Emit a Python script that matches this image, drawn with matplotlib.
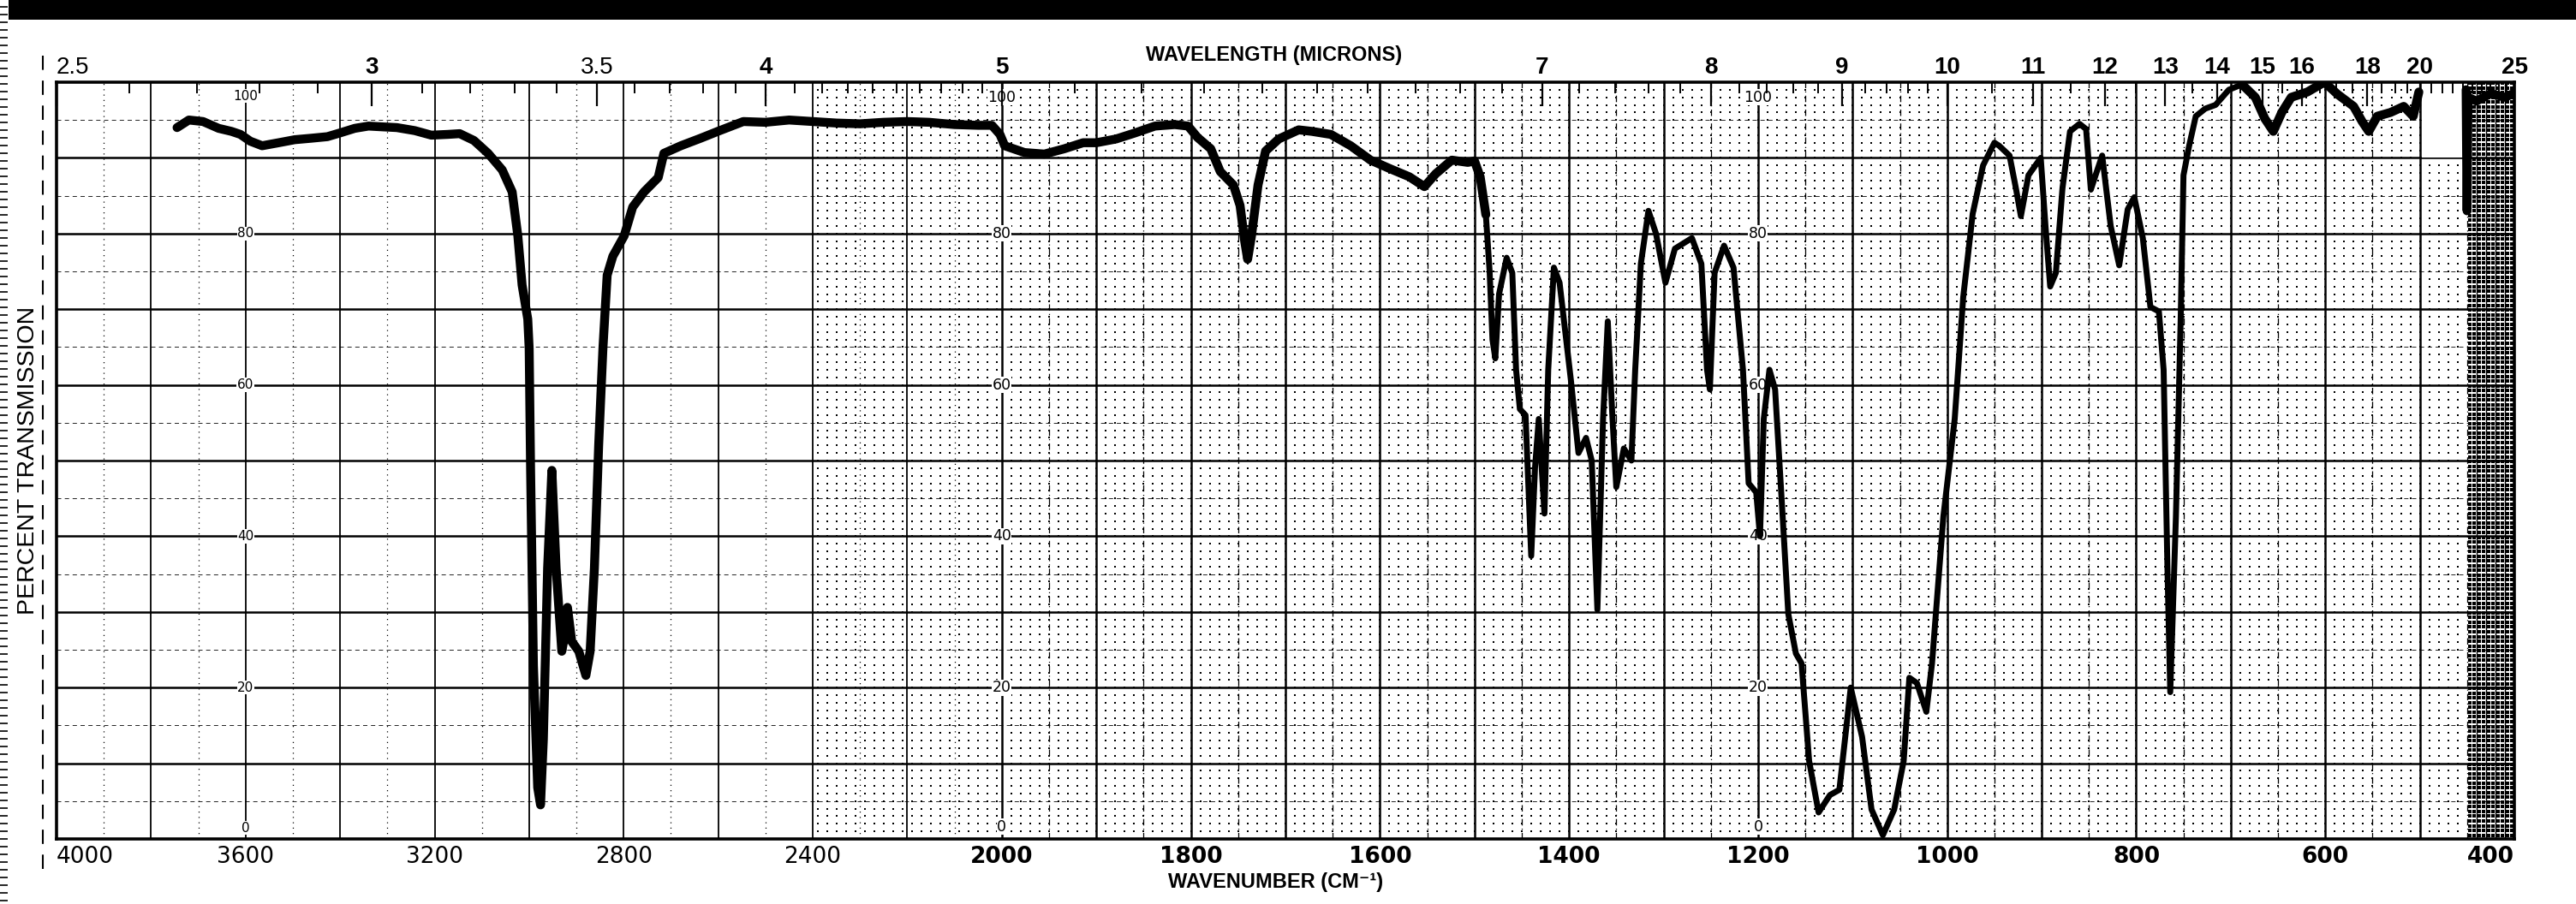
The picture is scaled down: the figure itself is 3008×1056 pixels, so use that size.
import numpy as np
import matplotlib
matplotlib.use('Agg')
import matplotlib.pyplot as plt
from matplotlib.patches import Rectangle
from matplotlib.lines import Line2D
from matplotlib.collections import LineCollection

# --- spectrum (cm-1, % transmission) ---
wavenumber = [
    3745, 3720, 3690, 3657, 3630, 3611, 3590, 3565, 3530, 3496, 3460, 3427, 3400,
    3369, 3340, 3311, 3280, 3242, 3207, 3172, 3147, 3117, 3087, 3057, 3036, 3024,
    3015, 3003, 3000, 2997, 2991, 2982, 2976, 2970, 2961, 2952, 2943, 2931, 2925,
    2919, 2910, 2895, 2880, 2871, 2862, 2853, 2844, 2835, 2823, 2799, 2781, 2757,
    2727, 2715, 2679, 2637, 2601, 2547, 2500, 2450, 2400, 2350, 2300, 2250, 2200,
    2154, 2100, 2050, 2021, 2004, 1997, 1976, 1955, 1934, 1914, 1900, 1879, 1859,
    1838, 1817, 1803, 1793, 1779, 1769, 1755, 1748, 1743, 1740, 1736, 1729, 1721,
    1707, 1686, 1672, 1652, 1631, 1610, 1590, 1569, 1553, 1541, 1524, 1507, 1500,
    1494, 1488, 1484, 1481, 1478, 1474, 1466, 1460, 1456, 1452, 1446, 1440, 1436,
    1432, 1426, 1422, 1416, 1410, 1398, 1390, 1382, 1376, 1370, 1364, 1359, 1354,
    1350, 1342, 1334, 1330, 1324, 1316, 1308, 1298, 1288, 1270, 1260, 1254, 1251,
    1246, 1236, 1226, 1216, 1210, 1202, 1198, 1194, 1188, 1182, 1174, 1168, 1160,
    1154, 1146, 1136, 1124, 1114, 1102, 1090, 1080, 1068, 1056, 1046, 1040, 1032,
    1022, 1016, 1004, 992, 983, 973, 962, 950, 945, 934, 927, 922, 914, 901, 896,
    891, 885, 878, 870, 860, 853, 848, 843, 836, 827, 818, 809, 802, 793, 785, 776,
    771, 767, 764, 758, 753, 750, 744, 737, 727, 716, 702, 688, 674, 664, 655, 646,
    636, 619, 601, 587, 570, 561, 554, 545, 531, 517, 507, 501, 498,
    451, 450, 449, 440, 425, 410, 401,
]
transmission = [
    94.0, 95.0, 94.8, 93.9, 93.5, 93.1, 92.2, 91.6, 92.0, 92.4, 92.6, 92.8, 93.3,
    93.9, 94.2, 94.1, 94.0, 93.6, 93.0, 93.1, 93.2, 92.3, 90.6, 88.4, 85.5, 79.7,
    73.2, 68.7, 64.8, 48.7, 22.9, 6.8, 4.5, 13.2, 35.8, 48.7, 35.8, 24.8, 26.8,
    30.6, 26.1, 24.8, 21.6, 24.8, 35.8, 52.0, 64.8, 74.5, 77.0, 79.7, 83.5, 85.5,
    87.4, 90.6, 91.6, 92.6, 93.5, 94.8, 94.7, 95.0, 94.8, 94.6, 94.5, 94.7, 94.8,
    94.7, 94.4, 94.3, 94.3, 93.1, 91.6, 90.7, 90.5, 91.2, 92.0, 92.0, 92.5, 93.3,
    94.2, 94.4, 94.2, 92.7, 91.2, 88.2, 86.4, 83.7, 78.9, 76.6, 79.6, 86.4, 90.9,
    92.5, 93.7, 93.5, 93.1, 91.6, 89.7, 88.6, 87.5, 86.2, 87.9, 89.7, 89.4, 89.6,
    87.5, 82.5, 75.0, 66.0, 63.5, 72.0, 76.8, 74.8, 62.0, 56.8, 56.0, 37.4, 49.0,
    55.5, 43.0, 62.0, 75.5, 73.5, 60.6, 51.0, 53.0, 50.0, 30.3, 55.5, 68.4, 55.5,
    46.5, 51.6, 50.0, 62.0, 76.0, 83.0, 80.0, 73.5, 78.0, 79.4, 76.0, 62.0, 59.4,
    74.8, 78.4, 75.5, 62.0, 47.0, 45.8, 40.0, 55.5, 62.0, 59.4, 42.6, 29.7, 24.5,
    23.2, 10.3, 3.5, 5.8, 6.5, 20.0, 13.5, 3.9, 0.5, 3.9, 10.3, 21.3, 20.6,
    16.8, 23.2, 42.6, 55.5, 71.6, 82.6, 89.0, 92.0, 91.6, 90.3, 85.8, 82.3, 87.7, 90.0, 81.0,
    73.0, 74.8, 86.0, 93.5, 94.5, 93.8, 85.8, 87.7, 90.3, 81.0, 75.8, 83.2, 84.8, 79.4, 70.3, 69.7,
    62.0, 36.0, 19.4, 42.6, 68.4, 87.7, 91.6, 95.5, 96.5, 97.0, 99.0, 99.7, 98.0, 95.2, 93.5, 96.0,
    98.0, 98.7, 100.0, 98.4, 96.8, 94.8, 93.5, 95.5, 96.0, 96.8, 95.5, 98.7, np.nan,
    99.0, 83.0, 98.0, 97.5, 98.5, 98.0, 98.5,
]

wn_ticks = [4000, 3600, 3200, 2800, 2400, 2000, 1800, 1600, 1400, 1200, 1000, 800, 600, 400]
um_ticks = [2.5, 3, 3.5, 4, 5, 7, 8, 9, 10, 11, 12, 13, 14, 15, 16, 18, 20, 25]
pct_labels = [100, 80, 60, 40, 20, 0]
label_columns = [3600, 2000, 1200]

LIB = ['Liberation Sans', 'DejaVu Sans']


# chart paper: scale doubles below 2000 cm-1
def fwd(v):
    v = np.asarray(v, dtype=float)
    return np.where(v >= 2000, 2000 + (v - 2000) / 2, v)


def inv(u):
    u = np.asarray(u, dtype=float)
    return np.where(u >= 2000, 2000 + (u - 2000) * 2, u)


W, H = 3008, 1056
fig = plt.figure(figsize=(W / 100, H / 100), dpi=100)
ax = fig.add_axes([66 / W, 1 - 980 / H, 2870 / W, 884 / H])
ax.set_xscale('function', functions=(fwd, inv))
ax.set_xlim(4000, 400)
ax.set_ylim(0, 100)

# grid
for v in range(2200, 4000, 200):
    ax.axvline(v, color='k', lw=1.3, zorder=1)
for v in range(2100, 4000, 200):
    ax.axvline(v, color='k', lw=0.9, ls=(0, (1, 4)), zorder=1)
for v in range(500, 2001, 100):
    ax.axvline(v, color='k', lw=1.8, zorder=1)
for v in range(450, 2000, 100):
    ax.axvline(v, color='k', lw=0.9, ls=(0, (6, 3, 1, 3)), zorder=1)
for p in range(10, 100, 10):
    ax.axhline(p, color='k', lw=1.8, zorder=1)
for p in range(5, 100, 10):
    ax.axhline(p, color='k', lw=0.6, ls=(0, (6, 5)), zorder=1)

# dotted stipple of the fine grid, denser past 450 cm-1
dx = np.concatenate([np.arange(2390, 2000, -20), np.arange(1990, 450, -10)])
gx, gy = np.meshgrid(dx, np.arange(1, 100, 1))
ax.scatter(gx.ravel(), gy.ravel(), s=2.5, marker='s', c='k', lw=0, zorder=1)
hx, hy = np.meshgrid(np.arange(447.5, 400, -5), np.arange(0.5, 100, 0.625))
ax.scatter(hx.ravel(), hy.ravel(), s=6, marker='s', c='k', lw=0, zorder=1)
for v in range(440, 400, -10):
    ax.axvline(v, color='k', lw=1.0, zorder=1)

# blank patch on the paper
ax.add_patch(Rectangle((498, 90), -48, 10, facecolor='white', edgecolor='none', zorder=2))

# percent labels printed on the paper
for col in label_columns:
    for p in pct_labels:
        if p == 100:
            y, va = 99, 'top'
        elif p == 0:
            y, va = 0.6, 'bottom'
        else:
            y, va = p, 'center'
        ax.text(col, y, str(p), fontsize=11 if col == 3600 else 12.5, ha='center', va=va,
                zorder=2, bbox=dict(fc='white', ec='none', pad=0.4))

wn = np.array(wavenumber)
tr = np.array(transmission)
ax.plot(wn, tr, color='k', lw=5, solid_joinstyle='round', solid_capstyle='round', zorder=3)
# the pen trace is broader where the recording is noisy
for lo, hi in [(1488, 3800), (400, 700)]:
    m = (wn >= lo) & (wn <= hi)
    ax.plot(wn[m], tr[m], color='k', lw=7.5, solid_joinstyle='round',
            solid_capstyle='round', zorder=3)

for s in ax.spines.values():
    s.set_linewidth(2.6)

ax.set_yticks([])
ax.set_xticks(wn_ticks)
ax.set_xticklabels([str(v) for v in wn_ticks])
ax.tick_params(axis='x', length=0, pad=6, labelsize=19)
labs = ax.get_xticklabels()
for lab, v in zip(labs, wn_ticks):
    if v <= 2000:
        lab.set_fontweight('bold')
labs[0].set_ha('left')
labs[-1].set_ha('right')

# wavelength scale on top
ax2 = ax.twiny()
ax2.set_xscale('function', functions=(fwd, inv))
ax2.set_xlim(4000, 400)
ax2.set_xticks([10000 / l for l in um_ticks])
ax2.set_xticklabels([f'{l:g}' for l in um_ticks])
minor_um = np.concatenate([np.arange(2.6, 5, 0.1), np.arange(5.2, 10, 0.2), np.arange(10.5, 25, 0.5)])
ax2.set_xticks(10000 / minor_um, minor=True)
ax2.tick_params(axis='x', which='major', direction='in', length=20, width=1.6, pad=3, labelsize=20)
ax2.tick_params(axis='x', which='minor', direction='in', length=9, width=1.4)
top_labs = ax2.get_xticklabels()
for lab, l in zip(top_labs, um_ticks):
    lab.set_family(LIB)
    if l not in (2.5, 3.5):
        lab.set_fontweight('bold')
top_labs[0].set_ha('left')
for s in ax2.spines.values():
    s.set_visible(False)

fig.text(1488 / W, 1 - 65 / H, 'WAVELENGTH (MICRONS)', ha='center', va='center',
         fontsize=17, fontweight='bold', family=LIB)
fig.text(1490 / W, 1 - 1031 / H, 'WAVENUMBER (CM⁻¹)', ha='center', va='center',
         fontsize=17, fontweight='bold', family=LIB)
fig.text(33 / W, 1 - 538 / H, 'PERCENT TRANSMISSION', rotation=90, ha='center',
         va='center', fontsize=20.5, family=LIB)

# scan artefacts: black top band, left ruler, margin line
fig.add_artist(Rectangle((10 / W, 1 - 23 / H), 1, 23 / H, transform=fig.transFigure,
                         facecolor='black', edgecolor='none'))
ticks_y = np.arange(4, H, 9) / H
fig.add_artist(LineCollection([[(0, y), (9 / W, y)] for y in ticks_y],
                              transform=fig.transFigure, colors='k', linewidths=1.2))
fig.add_artist(Line2D([50 / W, 50 / W], [1 - 65 / H, 1 - 1020 / H], transform=fig.transFigure,
                      color='k', lw=1.5, ls=(0, (8, 6))))

fig.savefig('out.png', dpi=100)
